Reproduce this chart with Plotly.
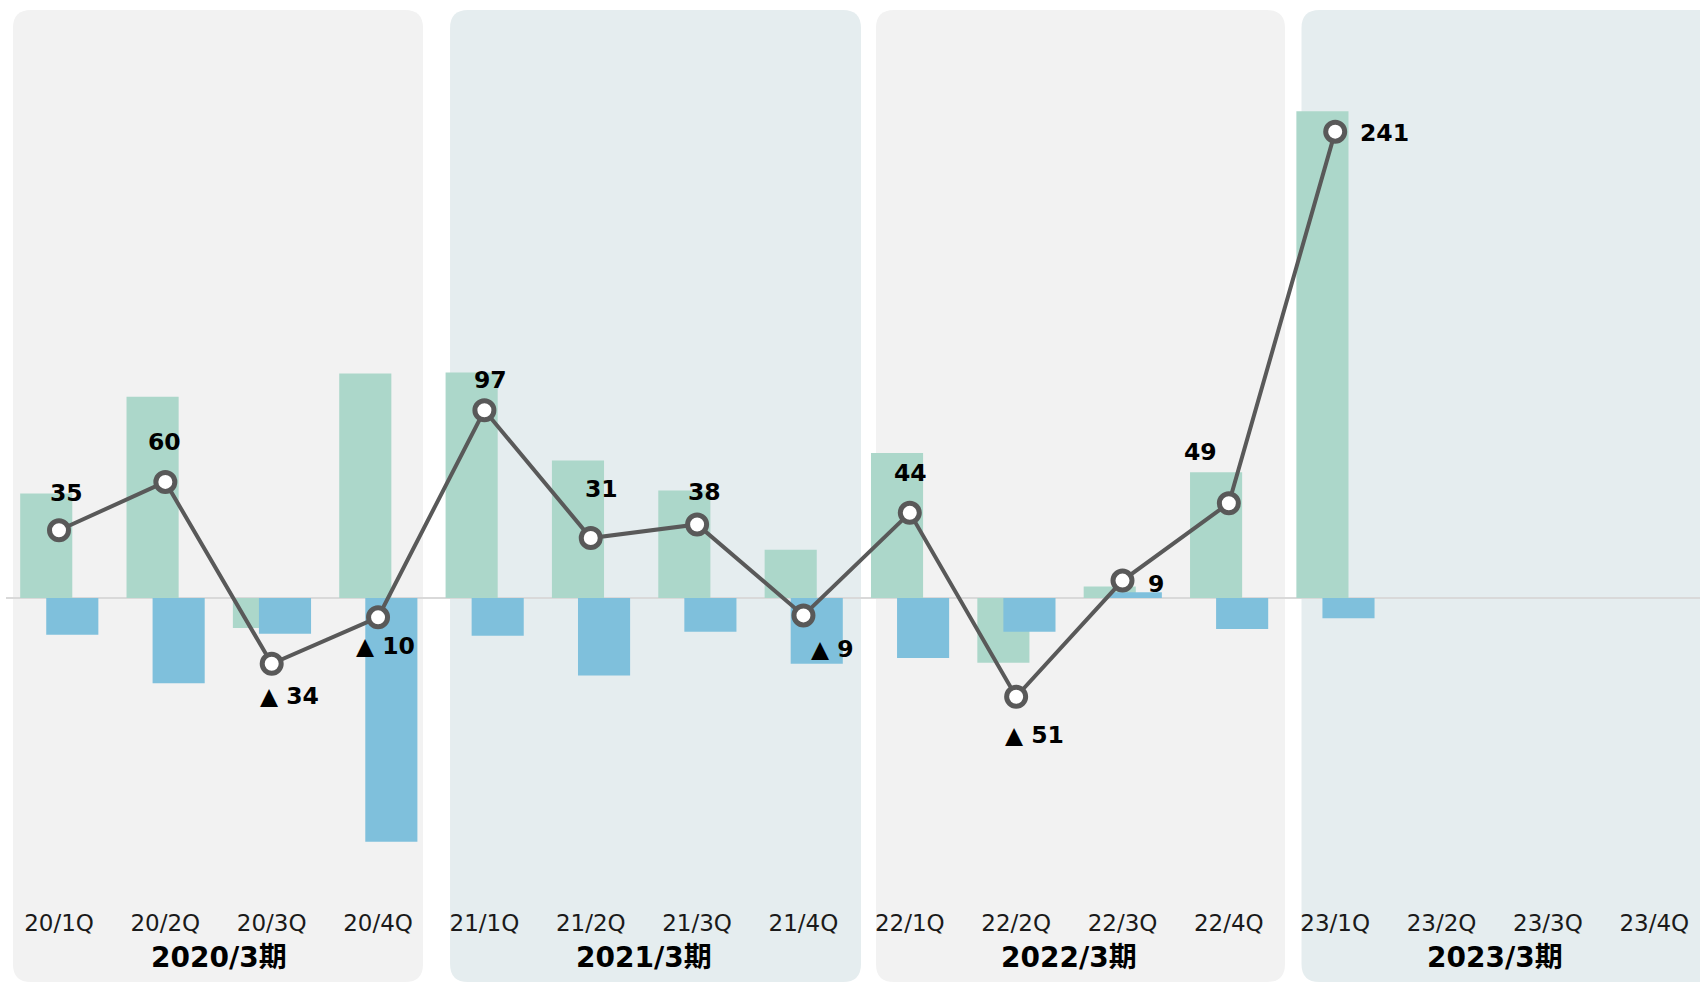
import plotly.graph_objects as go

# ---------------- data ----------------
quarters = ["20/1Q", "20/2Q", "20/3Q", "20/4Q",
            "21/1Q", "21/2Q", "21/3Q", "21/4Q",
            "22/1Q", "22/2Q", "22/3Q", "22/4Q",
            "23/1Q", "23/2Q", "23/3Q", "23/4Q"]
periods = ["2020/3期", "2021/3期", "2022/3期", "2023/3期"]
green_vals = [54, 104, -15.5, 116, 116.5, 71, 55.5, 25, 75, -33.5, 6, 65, 251.5, None, None, None]
blue_vals = [-19, -44, -18.5, -126, -19.5, -40, -17.5, -34, -31, -17.5, 3, -16, -10.5, None, None, None]
line_vals = [35, 60, -34, -10, 97, 31, 38, -9, 44, -51, 9, 49, 241, None, None, None]

# ---------------- style ----------------
W, H = 1700, 983
M_L, M_R, M_T, M_B = 6, 0, 0, 80
PLOT_H = H - M_T - M_B
ZERO_PX = 598          # pixel row of the zero line
PX_PER_UNIT = 1.935
CAT_W = 106.35         # pixels per category
X0_PX = 59             # pixel of first category

GREEN = "#acd7ca"
BLUE = "#7fc0dc"
LINE = "#595959"
PANEL_COLORS = ["#f2f2f2", "#e5edef", "#f2f2f2", "#e5edef"]
PANEL_EDGES = [(-0.433, 3.423), (3.677, 7.541), (7.682, 11.528), (11.683, 16.2)]
PANEL_TOP_PX, PANEL_BOT_PX, RADIUS_PX = 10, 982, 18
LABEL_SHIFT = [(7, 37), (-1, 40), (18, -32), (7.5, -29), (6, 30), (11, 49), (7, 32),
               (29, -34), (1, 40), (18, -38), (33, -3), (-28, 51), (49, -1)]
VAL_FONT = dict(family="DejaVu Sans, Verdana, sans-serif", size=23.5, color="#000000")
TICK_FONT = dict(family="DejaVu Sans, Verdana, sans-serif", size=23, color="#1a1a1a")
PERIOD_FONT = dict(family="DejaVu Sans, Noto Sans CJK JP, sans-serif",
                   size=28, color="#000000")

idx = list(range(len(quarters)))
x_lo = -(X0_PX - M_L) / CAT_W
x_hi = x_lo + (W - M_L - M_R) / CAT_W
y_hi = (ZERO_PX - M_T) / PX_PER_UNIT
y_lo = -(M_T + PLOT_H - ZERO_PX) / PX_PER_UNIT


def px_to_paper(py):
    return (M_T + PLOT_H - py) / PLOT_H


def rounded_path(x0, x1, y0, y1, rx, ry):
    return (f"M {x0 + rx},{y1} L {x1 - rx},{y1} Q {x1},{y1} {x1},{y1 - ry} "
            f"L {x1},{y0 + ry} Q {x1},{y0} {x1 - rx},{y0} "
            f"L {x0 + rx},{y0} Q {x0},{y0} {x0},{y0 + ry} "
            f"L {x0},{y1 - ry} Q {x0},{y1} {x0 + rx},{y1} Z")


fig = go.Figure()

fig.add_trace(go.Bar(x=idx, y=green_vals, width=0.49, offset=-0.365,
                     marker=dict(color=GREEN, line=dict(width=0)), opacity=1,
                     hoverinfo="skip", showlegend=False))
fig.add_trace(go.Bar(x=idx, y=blue_vals, width=0.49, offset=-0.12,
                     marker=dict(color=BLUE, line=dict(width=0)), opacity=1,
                     hoverinfo="skip", showlegend=False))
fig.add_trace(go.Scatter(x=idx, y=line_vals, mode="lines+markers",
                         line=dict(color=LINE, width=4),
                         marker=dict(size=19, color="white", line=dict(color=LINE, width=5)),
                         hoverinfo="skip", showlegend=False))

shapes = []
rx = RADIUS_PX / CAT_W
ry = RADIUS_PX / PLOT_H
top = px_to_paper(PANEL_TOP_PX)
bot = px_to_paper(PANEL_BOT_PX)
for (a, b), col in zip(PANEL_EDGES, PANEL_COLORS):
    shapes.append(dict(type="path", xref="x", yref="paper",
                       path=rounded_path(a, b, bot, top, rx, ry),
                       fillcolor=col, line=dict(width=0), layer="below"))

annotations = []
for i, v in enumerate(line_vals):
    if v is None:
        continue
    txt = str(v) if v >= 0 else "▲ " + str(-v)
    dx, dy = LABEL_SHIFT[i]
    annotations.append(dict(x=i, y=v, xref="x", yref="y", text=f"<b>{txt}</b>",
                            showarrow=False, xshift=dx, yshift=dy,
                            xanchor="center", yanchor="middle", font=VAL_FONT))
for k, p in enumerate(periods):
    annotations.append(dict(x=4 * k + 1.5, y=px_to_paper(957), xref="x", yref="paper",
                            text=f"<b>{p}</b>", showarrow=False,
                            xanchor="center", yanchor="middle", font=PERIOD_FONT))

fig.update_layout(
    width=W, height=H,
    margin=dict(l=M_L, r=M_R, t=M_T, b=M_B, pad=0),
    paper_bgcolor="white", plot_bgcolor="rgba(0,0,0,0)",
    barmode="overlay", showlegend=False,
    shapes=shapes, annotations=annotations,
    xaxis=dict(range=[x_lo, x_hi], tickmode="array", tickvals=idx, ticktext=quarters,
               showgrid=False, zeroline=False, showline=False,
               ticks="", ticklabelstandoff=4,
               tickfont=TICK_FONT, fixedrange=True),
    yaxis=dict(range=[y_lo, y_hi], showgrid=False, showticklabels=False,
               zeroline=True, zerolinecolor="#d9d9d9", zerolinewidth=2,
               showline=False, ticks="", fixedrange=True),
)

fig.write_html("out.html", config={"displayModeBar": False},
               post_script="document.body.style.margin='0';document.body.style.overflow='hidden';")
